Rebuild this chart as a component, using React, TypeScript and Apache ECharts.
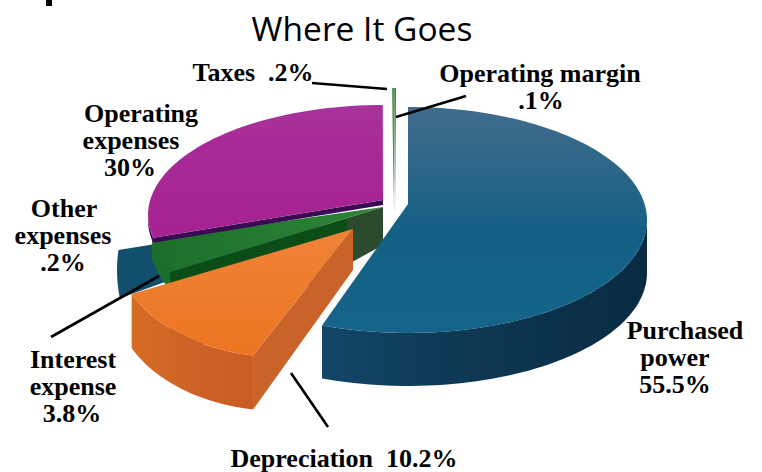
import React, { useEffect, useRef } from "react";
import * as echarts from "echarts";

const titleText = "Where It Goes";
const sliceNames = ["Purchased power", "Depreciation", "Interest expense", "Other expenses", "Operating expenses", "Taxes", "Operating margin"];
const sliceValues = [55.5, 10.2, 3.8, 0.2, 30, 0.2, 0.1];
const labelLines = [
  ["Purchased", "power", "55.5%"],
  ["Depreciation  10.2%"],
  ["Interest", "expense", "3.8%"],
  ["Other", "expenses", ".2%"],
  ["Operating", "expenses", "30%"],
  ["Taxes  .2%"],
  ["Operating margin", ".1%"],
];
// centre x and baseline y of each label line
const labelPlaces: [number, number][][] = [
  [[685, 338], [675, 365], [675, 392]],
  [[344, 466]],
  [[73, 367], [73, 394], [72, 421]],
  [[64, 216], [63, 243], [63, 270]],
  [[141, 121], [131, 148], [130, 175]],
  [[253, 80]],
  [[540, 81], [541, 108]],
];

const grad = (x2: number, y2: number, stops: [number, string][]) =>
  new echarts.graphic.LinearGradient(0, 0, x2, y2, stops.map(([offset, color]) => ({ offset, color })));

// Projection of every slice: apex, outline ellipse, and how the slice's angle maps onto that outline
const sliceGeometry: any[] = [
  { z: 6, ax: 408, ay: 204, cx: 408, cy: 220, rx: 239, ry: 113, phi0: 0, scale: 1.0065, side: 53,
    fill: grad(0, 1, [[0, "#416c8c"], [0.3, "#2a6587"], [0.55, "#146085"], [1, "#166489"]]),
    sideFill: grad(1, 0, [[0, "#134668"], [0.4, "#0e3955"], [1, "#082b42"]]) },
  { z: 7, ax: 353, ay: 229, cx: 280, cy: 245, rx: 165, ry: 112, phi0: 189.4, scale: 1.488, side: 54,
    cut: 54, cutApex: 41, cutFill: "#c9632a",
    fill: grad(0, 1, [[0, "#f08238"], [1, "#ec7522"]]),
    sideFill: grad(1, 0, [[0, "#d76b25"], [0.6, "#cc6026"], [1, "#c95d22"]]) },
  { z: 2, ax: 383, ay: 207, cx: 385, cy: 220, rx: 236, ry: 126, phi0: 245.6, scale: 1.117, side: 18,
    cut: 90, cutApex: 38, cutFill: grad(1, 0, [[0, "#0c4d17"], [0.82, "#0c4d17"], [0.84, "#2b4a2e"], [1, "#2b4a2e"]]),
    fill: grad(1, 0, [[0, "#1b6f2a"], [1, "#2f8535"]]),
    sideFill: "#1c6f2b" },
  { z: 1, ax: 365, ay: 210, cx: 350, cy: 270, rx: 233, ry: 180, phi0: 261, scale: 21.4, side: 0, fill: "#124f6c", sideFill: "#124f6c" },
  { z: 3, ax: 383, ay: 200, cx: 383, cy: 215, rx: 235, ry: 110, phi0: 258, scale: 0.944, side: 5,
    cut: 5, cutApex: 5, cutFill: "#3a0a55",
    fill: grad(0, 1, [[0, "#a8339a"], [0.3, "#a82a96"], [1, "#a52291"]]), sideFill: "#3a0a55" },
  { z: 4, ax: 394, ay: 216, cx: 394, cy: 205, rx: 170, ry: 117, phi0: -0.67, scale: 1.2, side: 0,
    fill: grad(0, 1, [[0, "#5a9a5c"], [0.7, "#3f8a47"], [1, "#b5cbb6"]]), sideFill: "#3f8a47" },
  { z: 5, ax: 395, ay: 216, cx: 394, cy: 205, rx: 170, ry: 117, phi0: 0.17, scale: 1.4, side: 0,
    fill: grad(0, 1, [[0, "#2f7a3a"], [0.7, "#2f7a3a"], [1, "#a9c4aa"]]), sideFill: "#2f7a3a" },
];

const startAngles = sliceValues.map((_, i) =>
  sliceValues.slice(0, i).reduce((sum, v) => sum + (v / 100) * 360, 0)
);

const point = (g: any, phiDeg: number, dy = 0): number[] => {
  const p = (phiDeg * Math.PI) / 180;
  return [g.cx + g.rx * Math.sin(p), g.cy - g.ry * Math.cos(p) + dy];
};
const arc = (g: any, from: number, to: number, dy = 0): number[][] => {
  const steps = Math.max(2, Math.ceil(Math.abs(to - from) / 2));
  const out: number[][] = [];
  for (let i = 0; i <= steps; i++) out.push(point(g, from + ((to - from) * i) / steps, dy));
  return out;
};

const renderSlice = (params: any, api: any) => {
  const g = sliceGeometry[params.dataIndex];
  const sweep = (api.value(0) / 100) * 360;
  const phiA = g.phi0;
  const phiB = g.phi0 + sweep * g.scale;
  const children: any[] = [];
  const lo = Math.max(phiA, 90);
  const hi = Math.min(phiB, 270);
  if (g.side > 0 && hi > lo) {
    children.push({
      type: "polygon",
      z2: g.z * 10,
      shape: { points: [...arc(g, lo, hi), ...arc(g, hi, lo, g.side)] },
      style: { fill: g.sideFill },
    });
  }
  if (g.cut) {
    const s = point(g, phiA);
    children.push({
      type: "polygon",
      z2: g.z * 10 + 1,
      shape: { points: [s, [g.ax, g.ay], [g.ax, g.ay + g.cutApex], [s[0], s[1] + g.cut]] },
      style: { fill: g.cutFill },
    });
  }
  children.push({
    type: "polygon",
    z2: g.z * 10 + 2,
    shape: { points: [[g.ax, g.ay], ...arc(g, phiA, phiB)] },
    style: { fill: g.fill },
  });
  return { type: "group", children };
};

const labelElements = labelLines.flatMap((lines, i) =>
  lines.map((text, j) => ({
    type: "text",
    x: labelPlaces[i][j][0],
    y: labelPlaces[i][j][1] - 8,
    z: 20,
    style: {
      text,
      font: 'bold 26px "Liberation Serif"',
      fill: "#000",
      textAlign: "center",
      textVerticalAlign: "middle",
    },
  }))
);
const leader = (x1: number, y1: number, x2: number, y2: number) => ({
  type: "line", z: 20, shape: { x1, y1, x2, y2 }, style: { stroke: "#000", lineWidth: 2.6 },
});

export default function App() {
  const ref = useRef<HTMLDivElement>(null);
  useEffect(() => {
    document.body.style.margin = "0";
    const chart = echarts.init(ref.current!, undefined, { renderer: "svg" });
    chart.setOption({
      animation: false,
      backgroundColor: "#fff",
      title: {
        text: titleText, left: 357, top: 6, textAlign: "center",
        textStyle: { fontFamily: '"Open Sans"', fontWeight: "normal", fontSize: 33.5, color: "#000" },
      },
      series: [{
        type: "custom",
        coordinateSystem: "none",
        silent: true,
        clip: false,
        renderItem: renderSlice,
        data: sliceValues.map((v, i) => ({ name: sliceNames[i], value: [v, startAngles[i]] })),
      }],
      graphic: [
        { type: "rect", z: 20, shape: { x: 46, y: 0, width: 6, height: 6 }, style: { fill: "#000" } },
        ...labelElements,
        leader(312, 83, 387, 89),
        leader(466, 96, 396, 117),
        leader(159, 276, 51, 337),
        leader(291, 373, 328, 427),
      ],
    });
    return () => chart.dispose();
  }, []);
  return <div ref={ref} style={{ width: 762, height: 472 }} />;
}
